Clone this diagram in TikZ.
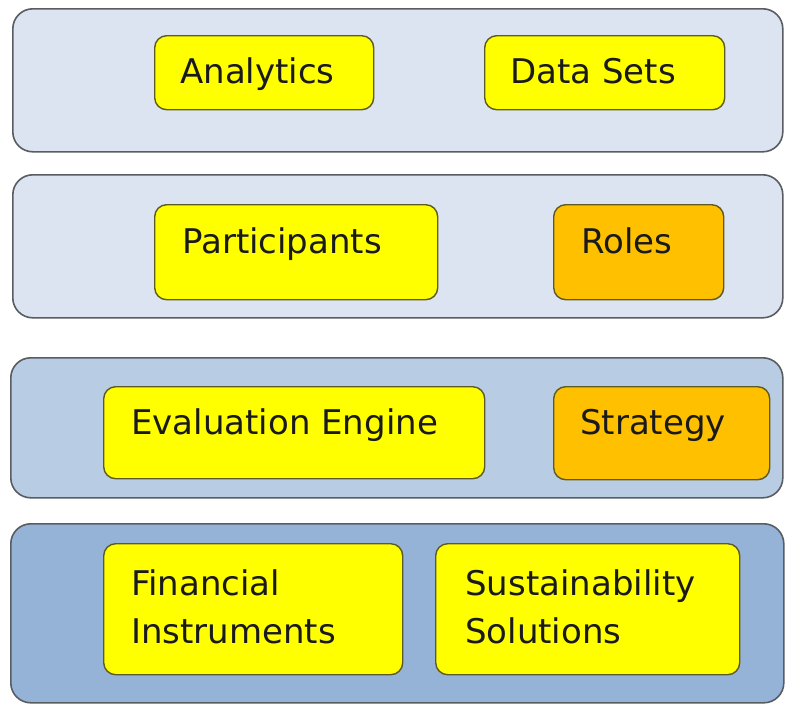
\documentclass[tikz,border=0pt]{standalone}
\usepackage{fontspec}
\setmainfont{DejaVu Sans}
\usetikzlibrary{positioning}
\definecolor{paleblue}{HTML}{DBE4F0}
\definecolor{midblue}{HTML}{B8CCE4}
\definecolor{deepblue}{HTML}{95B3D7}
\definecolor{frame}{HTML}{595D62}
\definecolor{itemyellow}{HTML}{FFFF00}
\definecolor{itemorange}{HTML}{FFC000}
\definecolor{itemedge}{HTML}{5E5B22}
\definecolor{ink}{HTML}{1A1A1A}

\begin{document}
\begin{tikzpicture}[x=1pt,y=-1pt,
  layer/.style={draw=frame,line width=1.6pt,rounded corners=20pt,anchor=north west,inner sep=0pt},
  item/.style={draw=itemedge,line width=1.4pt,rounded corners=12pt,fill=itemyellow,anchor=north west,inner sep=0pt},
  tag/.style={anchor=base west,inner sep=0pt,text=ink,font=\fontsize{34}{48}\selectfont}]
\useasboundingbox[fill=white] (0,0) rectangle (785,705);
% layers
\node[layer,fill=paleblue,minimum width=770pt,minimum height=143pt] (store) at (12,8) {};
\node[layer,fill=paleblue,minimum width=770pt,minimum height=143pt] (people) at (12,174) {};
\node[layer,fill=midblue,minimum width=772pt,minimum height=140pt] (engine) at (10,357) {};
\node[layer,fill=deepblue,minimum width=773pt,minimum height=179pt] (base) at (10,523) {};
% top layer
\node[item,minimum width=219pt,minimum height=74pt] (analytics) at (154,35) {};
\node[item,minimum width=240pt,minimum height=74pt] (datasets) at (484,35) {};
\node[tag] (analyticsT) at ([shift={(26,48)}]analytics.north west) {Analytics};
\node[tag] (datasetsT) at ([shift={(26,48)}]datasets.north west) {Data Sets};
% second layer
\node[item,minimum width=283pt,minimum height=95pt] (participants) at (154,204) {};
\node[item,fill=itemorange,minimum width=170pt,minimum height=95pt] (roles) at (553,204) {};
\node[tag] (participantsT) at ([shift={(28,49)}]participants.north west) {Participants};
\node[tag] (rolesT) at ([shift={(28,49)}]roles.north west) {Roles};
% third layer
\node[item,minimum width=381pt,minimum height=92pt] (evaluation) at (103,386) {};
\node[item,fill=itemorange,minimum width=216pt,minimum height=93pt] (strategy) at (553,386) {};
\node[tag] (evaluationT) at ([shift={(28,48)}]evaluation.north west) {Evaluation Engine};
\node[tag] (strategyT) at ([shift={(27,48)}]strategy.north west) {Strategy};
% bottom layer
\node[item,minimum width=299pt,minimum height=131pt] (financial) at (103,543) {};
\node[item,minimum width=304pt,minimum height=131pt] (solutions) at (435,543) {};
\node[tag] (financialT) at ([shift={(28,52)}]financial.north west) {Financial};
\node[tag] (instrumentsT) at ([shift={(28,100)}]financial.north west) {Instruments};
\node[tag] (sustainT) at ([shift={(30,52)}]solutions.north west) {Sustainability};
\node[tag] (solutionsT) at ([shift={(30,100)}]solutions.north west) {Solutions};
\end{tikzpicture}
\end{document}
